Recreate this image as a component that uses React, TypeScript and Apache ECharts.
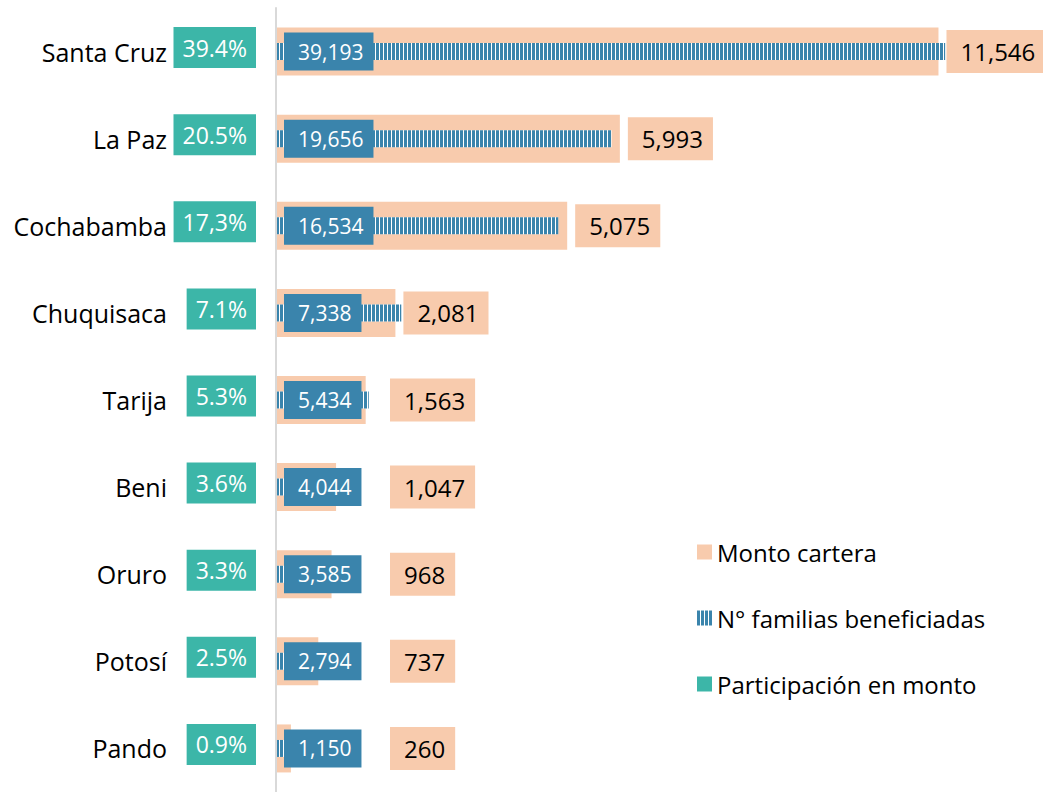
import React, { useEffect, useRef } from "react";
import * as echarts from "echarts";

const categorias = ["Santa Cruz", "La Paz", "Cochabamba", "Chuquisaca", "Tarija", "Beni", "Oruro", "Potosí", "Pando"];
const montoCartera = [11546, 5993, 5075, 2081, 1563, 1047, 968, 737, 260];
const familias = [39193, 19656, 16534, 7338, 5434, 4044, 3585, 2794, 1150];
const participacion = [39.4, 20.5, 17.3, 7.1, 5.3, 3.6, 3.3, 2.5, 0.9];
const participacionTexto = ["39.4%", "20.5%", "17,3%", "7.1%", "5.3%", "3.6%", "3.3%", "2.5%", "0.9%"];

const PEACH = "#F8CBAD";
const BLUE = "#3A84AC";
const TEAL = "#3CB6A8";
const FONT = '"Open Sans", "Noto Sans", sans-serif';

const fmt = (v: number) => v.toLocaleString("en-US");

export default function App() {
  const ref = useRef<HTMLDivElement>(null);
  useEffect(() => {
    document.body.style.margin = "0";
    const chart = echarts.init(ref.current!, null, { renderer: "svg" });
    chart.setOption({
      animation: false,
      backgroundColor: "#fff",
      grid: { left: 276, top: 8, width: 700, height: 791, containLabel: false },
      legend: {
        orient: "vertical",
        left: 692,
        top: 532,
        itemWidth: 15,
        itemHeight: 15,
        itemGap: 36,
        textStyle: { fontSize: 24, lineHeight: 30, fontFamily: FONT, color: "#000" },
        data: [
          { name: "Monto cartera", icon: "rect" },
          { name: "N° familias beneficiadas", icon: "rect" },
          { name: "Participación en monto", icon: "rect" },
        ],
      },
      xAxis: [
        { type: "value", min: 0, max: 12200, show: false },
        { type: "value", min: 0, max: 41000, show: false },
      ],
      yAxis: [
        {
          type: "category",
          data: categorias,
          inverse: true,
          z: 10,
          axisLine: { show: true, lineStyle: { color: "#D9D9D9", width: 2 } },
          axisTick: { show: false },
          axisLabel: { fontSize: 25, fontFamily: FONT, color: "#000", margin: 109 },
          splitLine: { show: false },
        },
        {
          type: "category",
          data: categorias,
          inverse: true,
          show: false,
        },
      ],
      series: [
        {
          name: "Monto cartera",
          type: "bar",
          xAxisIndex: 0,
          yAxisIndex: 0,
          data: montoCartera,
          barWidth: 48,
          itemStyle: { color: PEACH },
        },
        {
          name: "N° familias beneficiadas",
          type: "bar",
          xAxisIndex: 1,
          yAxisIndex: 1,
          data: familias,
          barWidth: 17,
          itemStyle: {
            color: "#fff",
            decal: {
              symbol: "rect",
              symbolSize: 1,
              color: BLUE,
              dashArrayX: [3, 1],
              dashArrayY: [4, 0],
              rotation: 0,
            },
          },
          label: {
            show: true,
            position: "insideLeft",
            distance: 8,
            formatter: (p: any) => fmt(p.value),
            color: "#fff",
            fontSize: 21,
            lineHeight: 26,
            fontFamily: FONT,
            backgroundColor: BLUE,
            padding: [6, 10, 6, 14],
          },
        },
        {
          name: "montoEtiquetas",
          type: "custom",
          xAxisIndex: 0,
          yAxisIndex: 0,
          z: 5,
          encode: { x: 0, y: 1 },
          data: montoCartera.map((v, i) => [v, i]),
          renderItem: (params: any, api: any) => {
            const v = api.value(0);
            const i = api.value(1);
            const p = api.coord([v, i]);
            const base = api.coord([0, i]);
            const x = Math.max(p[0] + 8, base[0] + 114);
            return {
              type: "text",
              x,
              y: p[1],
              style: {
                text: fmt(v),
                fill: "#000",
                fontSize: 24,
                fontFamily: FONT,
                lineHeight: 29,
                align: "left",
                verticalAlign: "middle",
                backgroundColor: PEACH,
                padding: [7, 10, 7, 14],
              },
            };
          },
        },
        {
          name: "Participación en monto",
          type: "custom",
          xAxisIndex: 0,
          yAxisIndex: 0,
          z: 5,
          itemStyle: { color: TEAL },
          encode: { x: 0, y: 1 },
          data: participacion.map((v, i) => [v, i]),
          renderItem: (params: any, api: any) => {
            const i = api.value(1);
            const base = api.coord([0, i]);
            return {
              type: "text",
              x: base[0] - 20,
              y: base[1] - 4,
              style: {
                text: participacionTexto[params.dataIndex],
                fill: "#fff",
                fontSize: 23,
                fontFamily: FONT,
                lineHeight: 29,
                align: "right",
                verticalAlign: "middle",
                backgroundColor: TEAL,
                padding: [6, 9, 6, 9],
              },
            };
          },
        },
      ],
    });
    return () => chart.dispose();
  }, []);
  return <div ref={ref} style={{ position: "absolute", left: 0, top: 0, width: 1043, height: 792 }} />;
}
